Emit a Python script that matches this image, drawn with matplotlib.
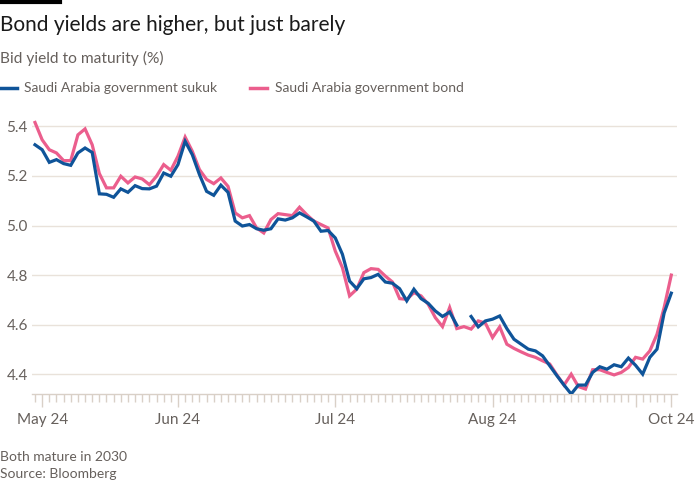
import matplotlib
matplotlib.use("Agg")
import matplotlib.pyplot as plt
import numpy as np
from matplotlib.lines import Line2D

plt.rcParams['font.family'] = ['Lato', 'DejaVu Sans']

title = "Bond yields are higher, but just barely"
subtitle = "Bid yield to maturity (%)"
series_names = ["Saudi Arabia government sukuk", "Saudi Arabia government bond"]
footnote = "Both mature in 2030"
source = "Source: Bloomberg"

sukuk = [5.326, 5.306, 5.255, 5.266, 5.25, 5.243, 5.293, 5.313, 5.295, 5.128,
         5.126, 5.114, 5.148, 5.134, 5.161, 5.149, 5.148, 5.159, 5.212, 5.199,
         5.246, 5.34, 5.286, 5.206, 5.138, 5.122, 5.163, 5.134, 5.018, 4.998,
         5.004, 4.987, 4.981, 4.987, 5.027, 5.022, 5.031, 5.051, 5.035, 5.018,
         4.977, 4.98, 4.95, 4.884, 4.776, 4.745, 4.785, 4.79, 4.803, 4.772,
         4.767, 4.745, 4.696, 4.743, 4.705, 4.686, 4.655, 4.633, 4.651, 4.598,
         np.nan, 4.633, 4.591, 4.615, 4.622, 4.635, 4.584, 4.541, 4.521, 4.501,
         4.494, 4.474, 4.434, 4.394, 4.356, 4.32, 4.356, 4.356, 4.407, 4.43,
         4.42, 4.438, 4.43, 4.465, 4.436, 4.40, 4.468, 4.501, 4.647, 4.727]

bond = [5.416, 5.346, 5.306, 5.293, 5.262, 5.262, 5.366, 5.39, 5.326, 5.21,
        5.152, 5.152, 5.199, 5.172, 5.196, 5.188, 5.165, 5.199, 5.246, 5.223,
        5.28, 5.357, 5.30, 5.226, 5.186, 5.169, 5.192, 5.158, 5.051, 5.031,
        5.04, 4.99, 4.97, 5.024, 5.048, 5.044, 5.04, 5.074, 5.044, 5.018,
        5.004, 4.99, 4.897, 4.83, 4.716, 4.743, 4.81, 4.826, 4.823, 4.796,
        4.772, 4.705, 4.702, 4.729, 4.716, 4.682, 4.628, 4.592, 4.669, 4.584,
        4.592, 4.582, 4.615, 4.606, 4.548, 4.591, 4.521, 4.504, 4.49, 4.477,
        4.468, 4.454, 4.441, 4.397, 4.356, 4.40, 4.35, 4.34, 4.418, 4.418,
        4.407, 4.397, 4.407, 4.427, 4.468, 4.461, 4.494, 4.561, 4.669, 4.80]

month_idx = [1, 20, 42, 64, 84, 89]
month_labels = ["May 24", "Jun 24", "Jul 24", "Aug 24", "", "Oct 24"]
y_ticks = [4.4, 4.6, 4.8, 5.0, 5.2, 5.4]

blue = "#0f5499"
pink = "#eb5e8d"
grid_c = "#e9e2da"
tick_c = "#d9d0c7"
text_gray = "#66605c"

W, H = 700, 500
fig = plt.figure(figsize=(7, 5), dpi=100)
fig.patch.set_facecolor("white")

ax_l, ax_r, ax_t, ax_b = 32, 677, 119, 394
ax = fig.add_axes([ax_l / W, 1 - ax_b / H, (ax_r - ax_l) / W, (ax_b - ax_t) / H])

x = np.arange(len(sukuk))
ax.plot(x, bond, color=pink, lw=2.3, solid_joinstyle="miter", zorder=3)
ax.plot(x, sukuk, color=blue, lw=2.3, solid_joinstyle="miter", zorder=4)

ax.set_xlim(-0.42, 89.8)
ax.set_ylim(4.32, 5.43)

for s in ["top", "right", "left"]:
    ax.spines[s].set_visible(False)
ax.spines["bottom"].set_color(tick_c)
ax.spines["bottom"].set_linewidth(1)

ax.set_yticks(y_ticks)
ax.set_yticklabels([f"{v:.1f}" for v in y_ticks])
ax.tick_params(axis="y", length=0, pad=18.5, labelsize=11, labelcolor=text_gray)
for lab in ax.get_yticklabels():
    lab.set_horizontalalignment("left")
ax.yaxis.grid(True, color=grid_c, lw=1)
ax.set_axisbelow(True)

ax.set_xticks(month_idx)
ax.set_xticklabels(month_labels)
ax.set_xticks(x, minor=True)
ax.tick_params(axis="x", which="major", length=9, width=1, color=tick_c,
               labelsize=11, labelcolor=text_gray, pad=5)
ax.tick_params(axis="x", which="minor", length=5.5, width=1, color=tick_c)

# header
fig.add_artist(Line2D([0, 60 / W], [1 - 2 / H, 1 - 2 / H], color="black", lw=3))
fig.text(0, 1 - 25 / H, title, fontsize=15, color="#1a1a1a", va="center", ha="left")
fig.text(0, 1 - 58 / H, subtitle, fontsize=11.2, color=text_gray, va="center", ha="left")

# legend
ly = 1 - 88 / H
fig.add_artist(Line2D([0, 17 / W], [ly, ly], color=blue, lw=2.5))
fig.text(24 / W, ly, series_names[0], fontsize=10, color=text_gray, va="center", ha="left")
fig.add_artist(Line2D([250 / W, 267 / W], [ly, ly], color=pink, lw=2.5))
fig.text(275 / W, ly, series_names[1], fontsize=10, color=text_gray, va="center", ha="left")

# footer
fig.text(0, 1 - 457 / H, footnote, fontsize=10, color=text_gray, va="center", ha="left")
fig.text(0, 1 - 474 / H, source, fontsize=10, color=text_gray, va="center", ha="left")

fig.savefig("out.png", dpi=100, facecolor="white")
